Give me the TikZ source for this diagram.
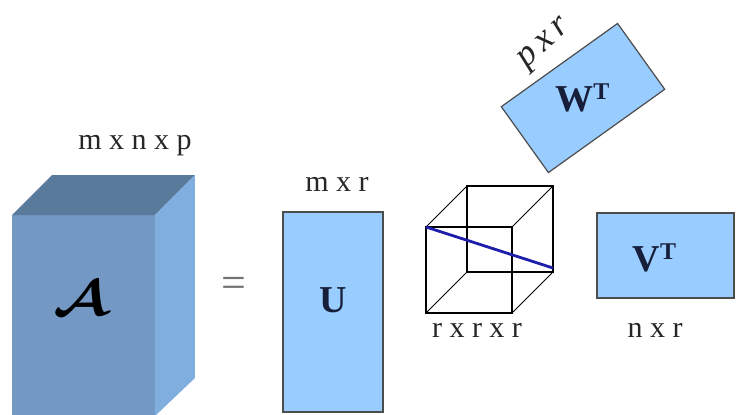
\documentclass[tikz,border=0pt]{standalone}
\usepackage{fontspec}
\setmainfont{Liberation Serif}
\usepackage{amsmath}
\definecolor{frontc}{RGB}{114,152,195}
\definecolor{topc}{RGB}{90,122,155}
\definecolor{sidec}{RGB}{128,174,222}
\definecolor{matblue}{RGB}{153,204,255}
\definecolor{navy}{RGB}{22,30,58}
\definecolor{diagblue}{RGB}{30,30,170}
\begin{document}
\begin{tikzpicture}[x=0.5pt,y=-0.5pt,
  lbl/.style={font=\fontsize{15}{15}\selectfont, text=black!85, inner sep=0},
  mat/.style={draw=black!70, fill=matblue, line width=0.6pt},
  big/.style={font=\fontsize{19}{19}\selectfont\bfseries, text=navy, inner sep=0},
  wire/.style={line width=0.6pt, draw=black}]
\useasboundingbox (0,0) rectangle (736,414);
\clip (0,0) rectangle (736,414);

% tensor A
\fill[frontc] (12,215) -- (155,215) -- (155,420) -- (12,420) -- cycle;
\fill[topc] (12,215) -- (52,175) -- (195,175) -- (155,215) -- cycle;
\fill[sidec] (155,215) -- (195,175) -- (195,378) -- (155,416) -- cycle;
\node[inner sep=0, xscale=1.2, font=\fontsize{26}{26}\selectfont] (tA) at (81,298) {$\boldsymbol{\mathcal{A}}$};
\node[lbl] (lA) at (135,146) {m x n x p};

\node[inner sep=0, text=black!55, font=\fontsize{22}{22}\selectfont] (eq) at (234,287) {=};

% U
\draw[mat] (283,212) rectangle (383,412);
\node[big] (U) at (333,300) {U};
\node[lbl] (lU) at (337,184) {m x r};

% core
\draw[wire] (426,227) rectangle (512,313);
\draw[wire] (467,186) rectangle (553,272);
\draw[wire, line width=0.4pt] (426,227) -- (467,186);
\draw[wire, line width=0.4pt] (512,227) -- (553,186);
\draw[wire, line width=0.4pt] (512,313) -- (553,272);
\draw[wire, line width=0.4pt] (426,313) -- (467,272);
\draw[diagblue, line width=1.4pt] (426,227) -- (553,268);
\node[lbl] (lS) at (477,330) {r x r x r};

% W^T
\node[mat, minimum width=71.5pt, minimum height=40.5pt, rotate=35.6, inner sep=0] (W) at (583,98) {};
\node[big] (Wt) at (583,98) {W\textsuperscript{\fontsize{12}{12}\selectfont T}};
\node[lbl, rotate=42, font=\fontsize{18}{18}\selectfont\itshape] (lW) at (546,45) {p\,x\,r};

% V^T
\draw[mat] (597,213) rectangle (734,298);
\node[big] (V) at (655,258) {V\textsuperscript{\fontsize{12}{12}\selectfont T}};
\node[lbl] (lV) at (655,330) {n x r};
\end{tikzpicture}
\end{document}
